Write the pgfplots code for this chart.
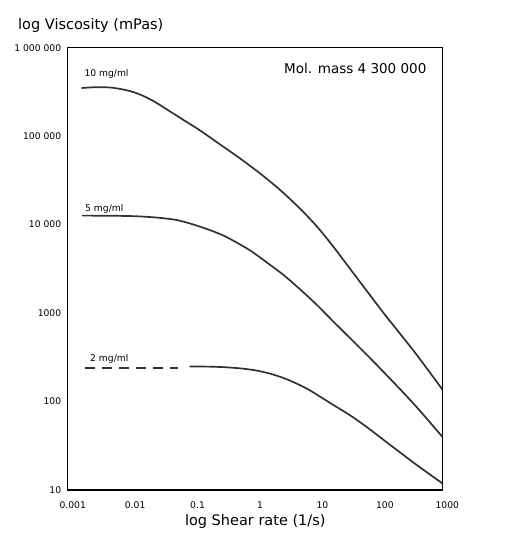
\documentclass[border=0pt]{standalone}
\usepackage{pgfplots}
\pgfplotsset{compat=1.18}
\usepackage{fontspec}
\setmainfont{DejaVu Sans}
\definecolor{curve}{RGB}{50,50,50}
\begin{document}
\begin{tikzpicture}[x=1pt,y=1pt]
\useasboundingbox (0,0) rectangle (515,552);
\begin{axis}[
  at={(67.7pt,62pt)}, anchor=south west,
  scale only axis, width=374.6pt, height=442.3pt,
  xmode=log, ymode=log,
  xmin=0.001, xmax=1000, ymin=10, ymax=1000000,
  xtick={0.001,0.01,0.1,1,10,100,1000},
  xticklabels={0.001,0.01,0.1,1,10,100,1000},
  ytick={10,100,1000,10000,100000,1000000},
  yticklabels={10,100,1000,10~000,100~000,1~000~000},
  minor xtick={}, minor ytick={},
  major tick length=0pt,
  tick style={draw=none},
  tick label style={font=\fontsize{9.2}{10}\selectfont},
  xticklabel style={yshift=-8pt, xshift=5pt},
  yticklabel style={xshift=-3pt},
  axis line style={line width=1.3pt},
  clip=true,
]
% 10 mg/ml
\addplot[curve, line width=1.7pt, smooth, line cap=round] coordinates {
(0.001696,350400) (0.002842,357800) (0.004762,355000) (0.007418,338800)
(0.01113,315800) (0.01670,282400) (0.02506,243400) (0.04360,190200)
(0.07582,148500) (0.1319,116000) (0.2759,80580) (0.5770,55980)
(1.207,37880) (2.525,24660) (5.283,15110) (9.890,9460)
(17.85,5675) (33.42,3158) (62.57,1759) (114.2,1005)
(211.5,582.1) (396.0,332) (1000,137.4)
};
% 5 mg/ml
\addplot[curve, line width=1.7pt, smooth, line cap=round] coordinates {
(0.001739,12640) (0.004264,12600) (0.01101,12470) (0.02506,12060)
(0.05438,11300) (0.1019,10050) (0.1858,8711) (0.2971,7647)
(0.4407,6630) (0.8346,5110) (1.506,3788) (2.852,2702)
(5.283,1853) (9.781,1238) (17.85,805.7) (33.42,520.4)
(61.89,337.1) (114.2,216.6) (211.5,137.4) (391.6,86.0) (1000,40)
};
% 2 mg/ml dashed part
\addplot[curve, line width=1.7pt, dash pattern=on 10pt off 7pt] coordinates {
(0.0019,240) (0.059,240)
};
% 2 mg/ml solid part
\addplot[curve, line width=1.7pt, smooth, line cap=round] coordinates {
(0.09119,248.6) (0.1907,247.9) (0.3571,243.4) (0.6447,235.4)
(1.121,222.3) (1.746,206.7) (2.820,185.3) (4.557,160.6)
(7.096,137.4) (9.890,119.1) (17.85,91.78) (33.42,69.86)
(62.57,51.10) (114.2,36.92) (211.5,26.53) (396.0,19.01) (1000,11.90)
};
\end{axis}
\node[anchor=base west, inner sep=0, font=\fontsize{14.5}{17}\selectfont] at (18,522.7) {log Viscosity (mPas)};
\node[anchor=base, inner sep=0, font=\fontsize{14.5}{17}\selectfont] at (255.3,27) {log Shear rate (1/s)};
\node[anchor=base west, inner sep=0, font=\fontsize{13.5}{16}\selectfont] at (284,478) {Mol. mass 4 300 000};
\node[anchor=base west, inner sep=0, font=\fontsize{9.2}{11}\selectfont] at (84.3,475.3) {10 mg/ml};
\node[anchor=base west, inner sep=0, font=\fontsize{9.2}{11}\selectfont] at (85,340.3) {5 mg/ml};
\node[anchor=base west, inner sep=0, font=\fontsize{9.2}{11}\selectfont] at (90,190) {2 mg/ml};
\end{tikzpicture}
\end{document}
